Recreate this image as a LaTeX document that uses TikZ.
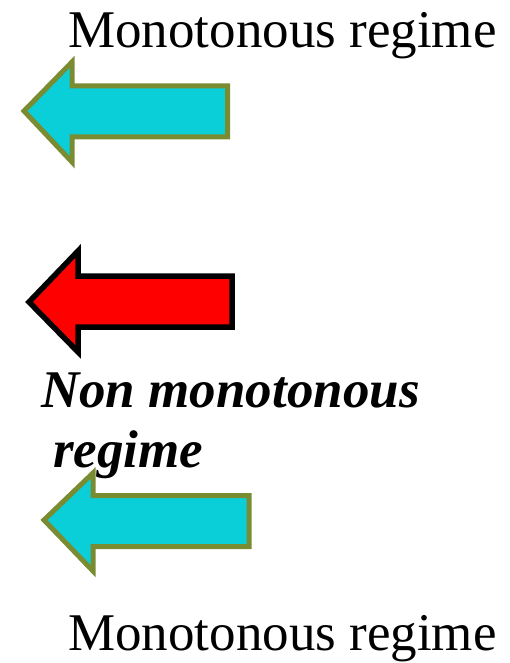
\documentclass[tikz,border=0pt]{standalone}
\usepackage{fontspec}
\setmainfont{Liberation Serif}
\definecolor{arrowcyan}{RGB}{11,207,216}
\definecolor{arrowolive}{RGB}{122,140,50}
\definecolor{arrowred}{RGB}{255,0,0}
\tikzset{
  calmarrow/.style={fill=arrowcyan, draw=arrowolive, line width=5pt, line join=miter},
  hotarrow/.style={fill=arrowred, draw=black, line width=5.5pt, line join=miter},
  regimelabel/.style={inner sep=0pt, anchor=base west, font=\fontsize{53}{55}\selectfont},
  hotlabel/.style={inner sep=0pt, anchor=base west, font=\fontsize{53}{55}\selectfont\bfseries\itshape}
}
\begin{document}
\begin{tikzpicture}[x=1pt, y=-1pt]
\useasboundingbox (0,0) rectangle (510,663);
% upper left-pointing arrow
\draw[calmarrow] (24,111) -- (72,62) -- (72,86) -- (227.5,86) -- (227.5,137)
  -- (72,137) -- (72,162) -- cycle;
% middle arrow
\draw[hotarrow] (29,302) -- (78,251) -- (78,276) -- (232,276) -- (232,327)
  -- (78,327) -- (78,352) -- cycle;
% lower arrow
\draw[calmarrow] (44,520) -- (93,473) -- (93,495.5) -- (249,495.5) -- (249,546.5)
  -- (93,546.5) -- (93,571) -- cycle;
% labels
\node[regimelabel] (top) at (68,48) {Monotonous regime};
\node[hotlabel] (mid1) at (41,407) {Non monotonous};
\node[hotlabel] (mid2) at (53,467) {regime};
\node[regimelabel] (bot) at (68,650) {Monotonous regime};
\end{tikzpicture}
\end{document}
